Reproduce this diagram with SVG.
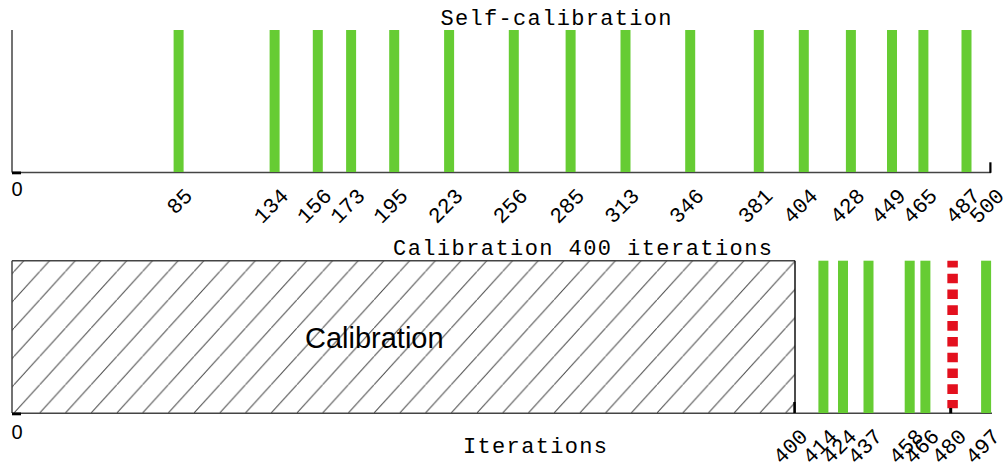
<svg xmlns="http://www.w3.org/2000/svg" width="1005" height="463" viewBox="0 0 1005 463">
<style>
.title{font-family:"Courier New",Courier,"Liberation Mono",monospace;font-size:22px;fill:#000;text-anchor:middle}
.tl{font-family:"Courier New",Courier,"Liberation Mono",monospace;font-size:21.5px;fill:#000;text-anchor:end}
.zero{font-family:"Liberation Sans",Arial,sans-serif;font-size:20px;fill:#000}
.axis{stroke:#444;stroke-width:1.5;fill:none}
.bar{fill:#66CC33}
.tick{fill:#000}
</style>
<defs>
<pattern id="hatch" patternUnits="userSpaceOnUse" x="14" y="413" width="25.72" height="28.3">
<line x1="-1" y1="29.4" x2="26.72" y2="-1.1" stroke="#444" stroke-width="1"/>
</pattern>
</defs>
<rect width="1005" height="463" fill="#fff"/>

<g id="top-chart">
<text class="title" x="556" y="25" textLength="231">Self-calibration</text>
<line class="axis" x1="12" y1="30" x2="12" y2="172.5"/>
<line class="axis" x1="12" y1="172.5" x2="991" y2="172.5"/>
<rect class="tick" x="12" y="171.5" width="9" height="2.8"/>
<rect class="tick" x="989.3" y="162.3" width="2.2" height="10.5"/>
<text class="zero" x="11.5" y="196">0</text>
<g id="top-bars">
<rect class="bar" x="173.6" y="30" width="10" height="142"/>
<rect class="bar" x="269.6" y="30" width="10" height="142"/>
<rect class="bar" x="312.8" y="30" width="10" height="142"/>
<rect class="bar" x="346.1" y="30" width="10" height="142"/>
<rect class="bar" x="389.2" y="30" width="10" height="142"/>
<rect class="bar" x="444.1" y="30" width="10" height="142"/>
<rect class="bar" x="508.8" y="30" width="10" height="142"/>
<rect class="bar" x="565.6" y="30" width="10" height="142"/>
<rect class="bar" x="620.5" y="30" width="10" height="142"/>
<rect class="bar" x="685.2" y="30" width="10" height="142"/>
<rect class="bar" x="753.8" y="30" width="10" height="142"/>
<rect class="bar" x="798.8" y="30" width="10" height="142"/>
<rect class="bar" x="845.9" y="30" width="10" height="142"/>
<rect class="bar" x="887.0" y="30" width="10" height="142"/>
<rect class="bar" x="918.4" y="30" width="10" height="142"/>
<rect class="bar" x="961.5" y="30" width="10" height="142"/>
</g>
<g id="top-labels">
<text class="tl" transform="translate(193.6,197) rotate(-45)">85</text>
<text class="tl" transform="translate(289.6,197) rotate(-45)">134</text>
<text class="tl" transform="translate(332.8,197) rotate(-45)">156</text>
<text class="tl" transform="translate(366.1,197) rotate(-45)">173</text>
<text class="tl" transform="translate(409.2,197) rotate(-45)">195</text>
<text class="tl" transform="translate(464.1,197) rotate(-45)">223</text>
<text class="tl" transform="translate(528.8,197) rotate(-45)">256</text>
<text class="tl" transform="translate(585.6,197) rotate(-45)">285</text>
<text class="tl" transform="translate(640.5,197) rotate(-45)">313</text>
<text class="tl" transform="translate(705.2,197) rotate(-45)">346</text>
<text class="tl" transform="translate(773.8,197) rotate(-45)">381</text>
<text class="tl" transform="translate(818.8,197) rotate(-45)">404</text>
<text class="tl" transform="translate(865.9,197) rotate(-45)">428</text>
<text class="tl" transform="translate(907.0,197) rotate(-45)">449</text>
<text class="tl" transform="translate(938.4,197) rotate(-45)">465</text>
<text class="tl" transform="translate(981.5,197) rotate(-45)">487</text>
<text class="tl" transform="translate(1005.5,197) rotate(-45)">500</text>
</g>
</g>

<g id="bottom-chart">
<text class="title" x="582.5" y="255" textLength="379">Calibration 400 iterations</text>
<g id="calibration-block">
<rect x="12" y="260.7" width="783" height="152.3" fill="url(#hatch)" stroke="none"/>
<line class="axis" x1="12" y1="260.7" x2="795" y2="260.7"/>
<line class="axis" x1="12" y1="260.7" x2="12" y2="413"/>
<line x1="795" y1="260.7" x2="795" y2="413" stroke="#111" stroke-width="1.5"/>
<text x="305" y="348.3" font-family="'Liberation Sans',Arial,sans-serif" font-size="29" fill="#000">Calibration</text>
</g>
<line class="axis" x1="12" y1="413.3" x2="992" y2="413.3"/>
<rect class="tick" x="12" y="412.5" width="9" height="2.8"/>
<rect class="tick" x="793.3" y="402" width="2.4" height="11"/>
<text class="zero" x="11.5" y="439">0</text>
<g id="bottom-bars">
<rect class="bar" x="818.4" y="260.7" width="10" height="152.3"/>
<rect class="bar" x="838.0" y="260.7" width="10" height="152.3"/>
<rect class="bar" x="863.5" y="260.7" width="10" height="152.3"/>
<rect class="bar" x="904.7" y="260.7" width="10" height="152.3"/>
<rect class="bar" x="920.4" y="260.7" width="10" height="152.3"/>
<rect class="bar" x="981.1" y="260.7" width="10" height="152.3"/>
<line x1="952.6" y1="260.7" x2="952.6" y2="408.3" stroke="#E3101E" stroke-width="10.5" stroke-dasharray="9.6 6.2" stroke-dashoffset="2.8"/>
<rect class="tick" x="949.2" y="408" width="3" height="5.3"/>
</g>
<g id="bottom-labels">
<text class="tl" transform="translate(809,437.5) rotate(-45)">400</text>
<text class="tl" transform="translate(838.4,437.5) rotate(-45)">414</text>
<text class="tl" transform="translate(858.0,437.5) rotate(-45)">424</text>
<text class="tl" transform="translate(883.5,437.5) rotate(-45)">437</text>
<text class="tl" transform="translate(924.7,437.5) rotate(-45)">458</text>
<text class="tl" transform="translate(940.4,437.5) rotate(-45)">466</text>
<text class="tl" transform="translate(967.6,437.5) rotate(-45)">480</text>
<text class="tl" transform="translate(1001.1,437.5) rotate(-45)">497</text>
</g>
<text class="title" x="535" y="453" textLength="144">Iterations</text>
</g>
</svg>
